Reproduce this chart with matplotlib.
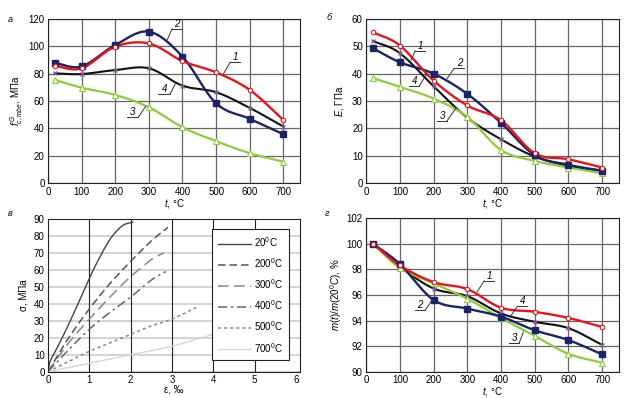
import numpy as np
import matplotlib
matplotlib.use("Agg")
import matplotlib.pyplot as plt

plt.rcParams['font.family'] = ['Liberation Sans Narrow', 'Liberation Sans', 'DejaVu Sans']
plt.rcParams['mathtext.fontset'] = 'custom'
plt.rcParams['mathtext.it'] = 'Liberation Sans:italic'
plt.rcParams['mathtext.rm'] = 'Liberation Sans'

T = [20, 100, 200, 300, 400, 500, 600, 700]

# a) strength, MPa
fc_1 = [85.7, 84.0, 99.8, 102.2, 89.3, 81.0, 68.2, 46.3]
fc_2 = [87.9, 85.4, 101.0, 110.8, 92.5, 58.4, 47.0, 35.8]
fc_3 = [75.5, 69.8, 64.5, 55.5, 40.9, 30.7, 21.9, 15.6]
fc_4 = [80.3, 79.8, 82.7, 84.0, 71.3, 66.5, 55.0, 41.4]

# b) modulus, GPa
E_1 = [55.2, 50.3, 37.5, 28.4, 23.0, 10.9, 8.7, 5.7]
E_2 = [49.3, 44.2, 40.0, 32.6, 22.0, 10.2, 6.7, 4.5]
E_3 = [38.4, 35.2, 30.9, 24.2, 12.1, 8.1, 5.7, 3.6]
E_4 = [52.0, 47.5, 35.4, 23.9, 16.0, 9.7, 6.3, 4.5]

# d) mass loss, %
m_1 = [100, 98.3, 97.0, 96.45, 95.0, 94.68, 94.2, 93.5]
m_2 = [100, 98.4, 95.6, 94.93, 94.3, 93.24, 92.47, 91.36]
m_3 = [100, 98.1, 96.9, 95.7, 94.2, 92.8, 91.4, 90.7]
m_4 = [100, 98.2, 96.5, 95.9, 94.55, 93.9, 93.4, 92.1]

# c) stress-strain curves
eps20 = [0, 0.05, 0.2, 0.5, 0.8, 1.0, 1.2, 1.5, 1.8, 2.05]
sig20 = [0, 6, 13, 28, 44, 55, 65, 78, 86, 88]
eps200 = [0, 0.5, 1.0, 1.5, 2.0, 2.5, 2.9]
sig200 = [0, 20, 37, 52, 65, 77, 85]
eps300 = [0, 0.5, 1.0, 1.5, 2.0, 2.5, 2.8]
sig300 = [0, 17, 31, 44, 56, 66, 70]
eps400 = [0, 0.5, 1.0, 1.5, 2.0, 2.5, 2.85]
sig400 = [0, 13, 25, 35, 44, 54, 59]
eps500 = [0, 0.5, 1.0, 1.5, 2.0, 2.5, 3.0, 3.6]
sig500 = [0, 6, 12, 17, 22, 27, 31, 38]
eps700 = [0, 1.0, 2.0, 3.0, 4.0, 5.0, 5.5]
sig700 = [0, 5, 10, 15, 22, 28, 31]
temps_c = ['20$^0$C', '200$^0$C', '300$^0$C', '400$^0$C', '500$^0$C', '700$^0$C']

RED = '#e8141c'
NAVY = '#1b2466'
GREEN = '#8dcc3a'
BLACK = '#111111'
PURP = '#8a5c9e'


def smooth(x, y, n=16):
    # catmull-rom through the points
    x = np.asarray(x, float)
    y = np.asarray(y, float)
    px = np.concatenate([[2 * x[0] - x[1]], x, [2 * x[-1] - x[-2]]])
    py = np.concatenate([[2 * y[0] - y[1]], y, [2 * y[-1] - y[-2]]])
    xs, ys = [], []
    for i in range(1, len(px) - 2):
        t = np.linspace(0, 1, n, endpoint=False)
        for arr, out in ((px, xs), (py, ys)):
            p0, p1, p2, p3 = arr[i - 1], arr[i], arr[i + 1], arr[i + 2]
            out.extend(0.5 * (2 * p1 + (-p0 + p2) * t + (2 * p0 - 5 * p1 + 4 * p2 - p3) * t ** 2
                              + (-p0 + 3 * p1 - 3 * p2 + p3) * t ** 3))
    xs.append(x[-1])
    ys.append(y[-1])
    return xs, ys


def four_curves(ax, s1, s2, s3, s4):
    ax.plot(*smooth(T, s4), color=BLACK, lw=1.5, zorder=3)
    ax.plot(T, s4, ls='none', marker='x', ms=3.5, mew=0.9, color=PURP, zorder=4)
    ax.plot(*smooth(T, s3), color=GREEN, lw=1.6, zorder=3)
    ax.plot(T, s3, ls='none', marker='^', ms=4, mfc='white', mec=GREEN, mew=0.8, zorder=4)
    ax.plot(*smooth(T, s2), color=NAVY, lw=1.7, zorder=3)
    ax.plot(T, s2, ls='none', marker='s', ms=4, color=NAVY, zorder=4)
    ax.plot(*smooth(T, s1), color=RED, lw=1.7, zorder=3)
    ax.plot(T, s1, ls='none', marker='o', ms=3.2, mfc='white', mec=RED, mew=0.8, zorder=4)


def tag(ax, s, x0, x1, y, xe, ye, end='left'):
    ax.plot([x0, x1], [y, y], color='#333333', lw=0.7, zorder=5)
    xs = x0 if end == 'left' else x1
    ax.plot([xs, xe], [y, ye], color='#333333', lw=0.7, zorder=5)
    ax.text((x0 + x1) / 2, y, s, fontsize=7, style='italic', ha='center', va='bottom', zorder=5)


def style(ax, xlim, ylim, yticks, xticks):
    ax.set_xlim(*xlim)
    ax.set_ylim(*ylim)
    ax.set_xticks(xticks)
    ax.set_yticks(yticks)
    ax.tick_params(length=0, labelsize=7, pad=2.5)
    for sp in ax.spines.values():
        sp.set_linewidth(0.8)
        sp.set_color('#222222')


fig = plt.figure(figsize=(6.24, 3.98), dpi=100)
ax_a = fig.add_axes([0.077, 0.540, 0.404, 0.412])
ax_b = fig.add_axes([0.587, 0.540, 0.405, 0.412])
ax_c = fig.add_axes([0.077, 0.066, 0.404, 0.384])
ax_d = fig.add_axes([0.587, 0.066, 0.405, 0.386])

tx = [0, 100, 200, 300, 400, 500, 600, 700]

for ax in (ax_a, ax_b, ax_d):
    ax.grid(True, color='#666666', lw=0.9)
    ax.set_axisbelow(True)

# a
four_curves(ax_a, fc_1, fc_2, fc_3, fc_4)
style(ax_a, (0, 750), (0, 120), range(0, 121, 20), tx)
ax_a.set_xlabel('$t$, °C', fontsize=7, labelpad=0)
ax_a.set_ylabel('$f^{\\,G}_{c,mbe}$, МПа', fontsize=7, labelpad=2)
tag(ax_a, '2', 369, 399, 113, 355, 105, 'left')
tag(ax_a, '1', 542, 572, 88.5, 522, 80, 'left')
tag(ax_a, '4', 328, 363, 65, 380, 73.5, 'right')
tag(ax_a, '3', 235, 268, 48, 290, 56, 'right')

# b
four_curves(ax_b, E_1, E_2, E_3, E_4)
style(ax_b, (0, 750), (0, 60), range(0, 61, 10), tx)
ax_b.set_xlabel('$t$, °C', fontsize=7, labelpad=0)
ax_b.set_ylabel('$E$, ГПа', fontsize=7, labelpad=4)
tag(ax_b, '1', 145, 175, 48.4, 133, 45, 'left')
tag(ax_b, '2', 261, 291, 42, 240, 38.3, 'left')
tag(ax_b, '4', 128, 157, 35.5, 180, 40, 'right')
tag(ax_b, '3', 211, 240, 22.8, 265, 27.3, 'right')

# c
ax_c.grid(True, axis='y', color='#d0d0d0', lw=1.3)
ax_c.set_axisbelow(True)
for v in [1, 2, 3, 4, 5]:
    ax_c.axvline(v, color='#222222', lw=0.8, zorder=1)
ax_c.plot(*smooth(eps20, sig20), color='#444444', lw=1.0, label=temps_c[0])
ax_c.plot(*smooth(eps200, sig200), color='#555555', lw=1.1, dashes=(5, 2.5), label=temps_c[1])
ax_c.plot(*smooth(eps300, sig300), color='#888888', lw=1.1, dashes=(7, 3.5), label=temps_c[2])
ax_c.plot(*smooth(eps400, sig400), color='#666666', lw=1.1, dashes=(6, 2.5, 1.5, 2.5), label=temps_c[3])
ax_c.plot(*smooth(eps500, sig500), color='#888888', lw=1.1, dashes=(2, 2), label=temps_c[4])
ax_c.plot(*smooth(eps700, sig700), color='#d5d5d5', lw=1.0, label=temps_c[5])
style(ax_c, (0, 6.1), (0, 90), range(0, 91, 10), range(0, 7))
ax_c.set_xlabel('ε, ‰', fontsize=7, labelpad=-0.5)
ax_c.set_ylabel('σ, МПа', fontsize=7, labelpad=4)
leg = ax_c.legend(loc='upper right', bbox_to_anchor=(0.975, 0.963), fontsize=7, frameon=True,
                  fancybox=False, edgecolor='#222222', framealpha=1, handlelength=3.4,
                  labelspacing=0.75, borderpad=0.6, handletextpad=0.3)
leg.get_frame().set_linewidth(0.8)

# d
four_curves(ax_d, m_1, m_2, m_3, m_4)
style(ax_d, (0, 750), (90, 102), range(90, 103, 2), tx)
ax_d.set_xlabel('$t$, °C', fontsize=7, labelpad=-0.5)
ax_d.set_ylabel('$m(t)/m(20^0C)$, %', fontsize=7, labelpad=2)
tag(ax_d, '1', 350, 380, 97.1, 329, 96.25, 'left')
tag(ax_d, '2', 145, 175, 94.8, 195, 95.6, 'right')
tag(ax_d, '4', 448, 478, 95.1, 430, 94.4, 'left')
tag(ax_d, '3', 424, 454, 92.26, 466, 93.1, 'right')

# panel letters
for s, px, py in [('а', 10, 19), ('б', 329, 18), ('в', 10, 214), ('г', 327, 213)]:
    fig.text(px / 624, 1 - py / 398, s, fontsize=6.5, style='italic', ha='center', va='center')

fig.savefig('out.png', dpi=100)
